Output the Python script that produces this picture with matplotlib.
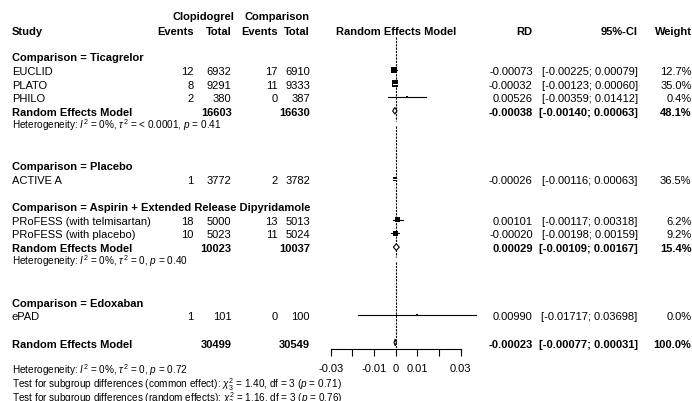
import numpy as np
import matplotlib
matplotlib.use("Agg")
from matplotlib import pyplot as plt
from matplotlib.patches import Rectangle, Polygon

plt.rcParams['font.family'] = ['Liberation Sans', 'DejaVu Sans']
plt.rcParams['font.size'] = 8
plt.rcParams['mathtext.fontset'] = 'custom'
plt.rcParams['mathtext.rm'] = 'Liberation Sans'
plt.rcParams['mathtext.it'] = 'Liberation Sans:italic'

# data
groups = ["Comparison = Ticagrelor", "Comparison = Placebo",
          "Comparison = Aspirin + Extended Release Dipyridamole", "Comparison = Edoxaban"]
studies = ["EUCLID", "PLATO", "PHILO", "ACTIVE A",
           "PRoFESS (with telmisartan)", "PRoFESS (with placebo)", "ePAD"]
study_group = [0, 0, 0, 1, 2, 2, 3]
ev_clop = [12, 8, 2, 1, 18, 10, 1]
n_clop = [6932, 9291, 380, 3772, 5000, 5023, 101]
ev_comp = [17, 11, 0, 2, 13, 11, 0]
n_comp = [6910, 9333, 387, 3782, 5013, 5024, 100]
rd = [-0.00073, -0.00032, 0.00526, -0.00026, 0.00101, -0.00020, 0.00990]
ci_lo = [-0.00225, -0.00123, -0.00359, -0.00116, -0.00117, -0.00198, -0.01717]
ci_hi = [0.00079, 0.00060, 0.01412, 0.00063, 0.00318, 0.00159, 0.03698]
weight = [12.7, 35.0, 0.4, 36.5, 6.2, 9.2, 0.0]

# subgroup random effects models (only groups with more than one study)
sub_tot_clop = {0: 16603, 2: 10023}
sub_tot_comp = {0: 16630, 2: 10037}
sub_rd = {0: -0.00038, 2: 0.00029}
sub_lo = {0: -0.00140, 2: -0.00109}
sub_hi = {0: 0.00063, 2: 0.00167}
sub_w = {0: 48.1, 2: 15.4}
sub_het = {0: "Heterogeneity: $I^2$ = 0%, $\\tau^2$ = < 0.0001, $p$ = 0.41",
           2: "Heterogeneity: $I^2$ = 0%, $\\tau^2$ = 0, $p$ = 0.40"}

tot_clop = 30499
tot_comp = 30549
all_rd = -0.00023
all_lo = -0.00077
all_hi = 0.00031
all_w = 100.0
bottom_lines = ["Heterogeneity: $I^2$ = 0%, $\\tau^2$ = 0, $p$ = 0.72",
                "Test for subgroup differences (common effect): $\\chi^2_3$ = 1.40, df = 3 ($p$ = 0.71)",
                "Test for subgroup differences (random effects): $\\chi^2_3$ = 1.16, df = 3 ($p$ = 0.76)"]

xticks = [-0.03, -0.02, -0.01, 0, 0.01, 0.02, 0.03]
xticklabels = ["-0.03", "", "-0.01", "0", "0.01", "", "0.03"]

W, H = 692, 402
fig = plt.figure(figsize=(W / 100, H / 100), dpi=100)
ax = fig.add_axes([0, 0, 1, 1])
ax.set_xlim(0, W)
ax.set_ylim(H, 0)
ax.axis('off')

# forest panel: -0.03 .. 0.03 spans x = 330.7 .. 460.7 px
fx0, fx1 = 330.7, 460.7
ax2 = fig.add_axes([fx0 / W, 0, (fx1 - fx0) / W, 1])
ax2.set_xlim(-0.03, 0.03)
ax2.set_ylim(H, 0)
ax2.patch.set_visible(False)
for s in ['top', 'left', 'right']:
    ax2.spines[s].set_visible(False)
ax2.spines['bottom'].set_position(('data', 350))
ax2.spines['bottom'].set_linewidth(0.8)
ax2.set_yticks([])
ax2.set_xticks(xticks)
ax2.set_xticklabels(xticklabels)
ax2.tick_params(axis='x', direction='out', length=4.8, width=0.8, pad=5, labelsize=8)
pxu = (fx1 - fx0) / 0.06  # pixels per RD unit


def rowy(k):
    return 57.3 + 13.63 * k


def put(x, k, s, ha='left', bold=False):
    ax.text(x, rowy(k) + 4, s, ha=ha, va='baseline',
            fontweight='bold' if bold else 'normal')


# column x positions
c_study, c_ev1, c_n1, c_ev2, c_n2 = 12, 193.5, 231.5, 277.7, 310
c_rd, c_ci, c_w = 532.7, 637.7, 691.5

# headers
put(203, -3.05, "Clopidogrel", ha='center', bold=True)
put(277, -3.05, "Comparison", ha='center', bold=True)
put(c_study, -1.95, "Study", bold=True)
put(c_ev1, -1.95, "Events", ha='right', bold=True)
put(c_n1, -1.95, "Total", ha='right', bold=True)
put(c_ev2, -1.95, "Events", ha='right', bold=True)
put(c_n2, -1.95, "Total", ha='right', bold=True)
put((fx0 + fx1) / 2, -1.95, "Random Effects Model", ha='center', bold=True)
put(c_rd, -1.95, "RD", ha='right', bold=True)
put(c_ci, -1.95, "95%-CI", ha='right', bold=True)
put(c_w, -1.95, "Weight", ha='right', bold=True)


def diamond(k, est, lo, hi):
    y = rowy(k)
    h = 3.3
    ax2.add_patch(Polygon([(lo, y), (est, y - h), (hi, y), (est, y + h)], closed=True,
                          facecolor='white', edgecolor='black', lw=0.8, clip_on=False, zorder=4))


k = 0
het_rows = []
for g, gname in enumerate(groups):
    put(c_study, k, gname, bold=True)
    k += 1
    idx = [i for i in range(len(studies)) if study_group[i] == g]
    for i in idx:
        put(c_study, k, studies[i])
        put(c_ev1, k, str(ev_clop[i]), ha='right')
        put(c_n1, k, str(n_clop[i]), ha='right')
        put(c_ev2, k, str(ev_comp[i]), ha='right')
        put(c_n2, k, str(n_comp[i]), ha='right')
        put(c_rd, k, "%.5f" % rd[i], ha='right')
        put(c_ci, k, "[%.5f; %.5f]" % (ci_lo[i], ci_hi[i]), ha='right')
        put(c_w, k, "%.1f%%" % weight[i], ha='right')
        y = rowy(k)
        ax2.plot([ci_lo[i], ci_hi[i]], [y, y], color='black', lw=0.8, clip_on=False, zorder=2)
        wmh = n_clop[i] * n_comp[i] / (n_clop[i] + n_comp[i])
        side = max(0.098 * np.sqrt(wmh), 1.8)
        half = side / 2 / pxu
        ax2.add_patch(Rectangle((rd[i] - half, y - side / 2), 2 * half, side,
                                facecolor='black', edgecolor='none', clip_on=False, zorder=3))
        if ci_lo[i] > rd[i] - half and ci_hi[i] < rd[i] + half:
            ax2.plot([ci_lo[i], ci_hi[i]], [y, y], color='white', lw=0.8, clip_on=False, zorder=4)
        k += 1
    if g in sub_rd:
        put(c_study, k, "Random Effects Model", bold=True)
        put(c_n1, k, str(sub_tot_clop[g]), ha='right', bold=True)
        put(c_n2, k, str(sub_tot_comp[g]), ha='right', bold=True)
        put(c_rd, k, "%.5f" % sub_rd[g], ha='right', bold=True)
        put(c_ci, k, "[%.5f; %.5f]" % (sub_lo[g], sub_hi[g]), ha='right', bold=True)
        put(c_w, k, "%.1f%%" % sub_w[g], ha='right', bold=True)
        diamond(k, sub_rd[g], sub_lo[g], sub_hi[g])
        k += 1
        ax.text(c_study, rowy(k) + 3.5, sub_het[g], ha='left', va='baseline', fontsize=7.2)
        het_rows.append(k)
        k += 3
    else:
        k += 1

# overall
put(c_study, k, "Random Effects Model", bold=True)
put(c_n1, k, str(tot_clop), ha='right', bold=True)
put(c_n2, k, str(tot_comp), ha='right', bold=True)
put(c_rd, k, "%.5f" % all_rd, ha='right', bold=True)
put(c_ci, k, "[%.5f; %.5f]" % (all_lo, all_hi), ha='right', bold=True)
put(c_w, k, "%.1f%%" % all_w, ha='right', bold=True)
diamond(k, all_rd, all_lo, all_hi)
k += 2
for j, line in enumerate(bottom_lines):
    ax.text(c_study, rowy(k + j) + 3.5, line, ha='left', va='baseline', fontsize=7.2)

# reference line at 0, interrupted on heterogeneity rows
top = 38
for hk in het_rows:
    yh = rowy(hk)
    ax2.plot([0, 0], [top, yh - 3.5], color='black', lw=0.8, ls=(0, (2, 1)), clip_on=False, zorder=1)
    top = yh + 1.5
ax2.plot([0, 0], [top, 350], color='black', lw=0.8, ls=(0, (2, 1)), clip_on=False, zorder=1)

fig.savefig("out.png", dpi=100)
